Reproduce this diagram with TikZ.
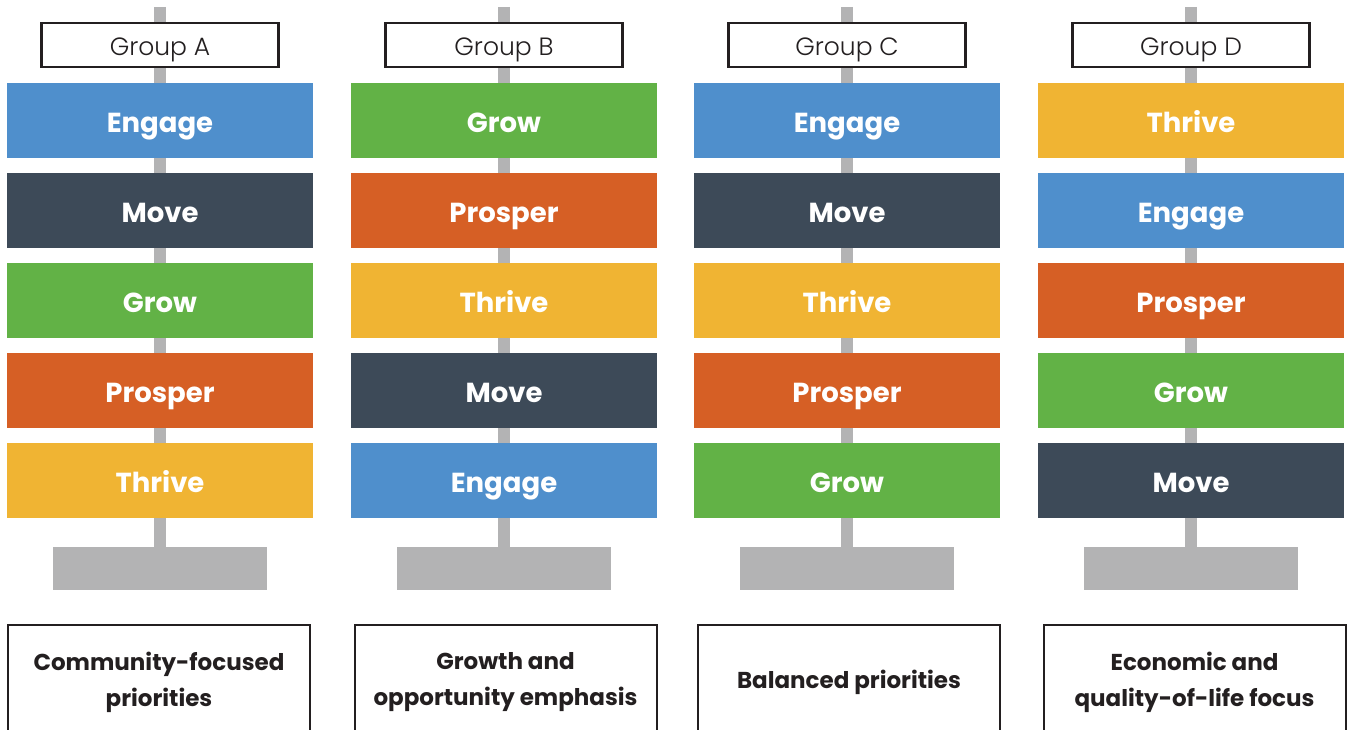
\documentclass[tikz,border=0pt]{standalone}
\usepackage{fontspec}
\setmainfont{Poppins}
\newfontfamily\lightfont{Poppins Light}
\usetikzlibrary{backgrounds}

\definecolor{cblue}{HTML}{4F8FCC}
\definecolor{cdark}{HTML}{3D4A58}
\definecolor{cgreen}{HTML}{62B246}
\definecolor{corange}{HTML}{D65F25}
\definecolor{cyellow}{HTML}{F0B433}
\definecolor{cpole}{HTML}{B3B3B4}
\definecolor{cink}{HTML}{231F20}

\tikzset{
  grpbox/.style={draw=cink, line width=2.4pt, fill=white, minimum width=237, minimum height=44, inner sep=0pt, text height=21.5pt, text depth=0pt, font=\lightfont\fontsize{25}{28}\selectfont, text=cink},
  prio/.style={fill=#1, minimum width=306, minimum height=75, inner sep=0pt, text height=23.3pt, text depth=0pt, text=white, font=\bfseries\fontsize{27.5}{30}\selectfont},
  basebox/.style={fill=cpole, minimum width=214, minimum height=43, inner sep=0pt},
  capbox/.style={draw=cink, line width=2pt, minimum width=302, minimum height=114, inner sep=0pt, align=center, text=cink, font=\bfseries\fontsize{23}{36}\selectfont},
  pole/.style={cpole, line width=12pt}
}

\begin{document}
\begin{tikzpicture}[x=1pt, y=-1pt]
    \useasboundingbox (0,0) rectangle (1348,730);
    % one signpost per group
    \foreach \col/\cx/\capx/\items/\cap in {
        A/160/159/{Engage/cblue, Move/cdark, Grow/cgreen, Prosper/corange, Thrive/cyellow}/{Community-focused\\priorities},
        B/504/505.5/{Grow/cgreen, Prosper/corange, Thrive/cyellow, Move/cdark, Engage/cblue}/{Growth and\\opportunity emphasis},
        C/847/849/{Engage/cblue, Move/cdark, Thrive/cyellow, Prosper/corange, Grow/cgreen}/{Balanced priorities},
        D/1191/1194.5/{Thrive/cyellow, Engage/cblue, Prosper/corange, Grow/cgreen, Move/cdark}/{Economic and\\quality-of-life focus}}
    {
        \coordinate (t\col) at (\cx,7);
        \node[grpbox] (g\col) at (\cx,45) {Group \col};
        \foreach \lbl/\clr [count=\i] in \items
            \node[prio=\clr] (\col\i) at (\cx,30.5+90*\i) {\lbl};
        \node[basebox] (b\col) at (\cx,568.5) {};
        \node[capbox] (c\col) at (\capx,682) {\cap};
        % the post behind the signs
        \begin{pgfonlayer}{background}
            \draw[pole] (t\col) -- (b\col.north);
        \end{pgfonlayer}
    }
\end{tikzpicture}
\end{document}
